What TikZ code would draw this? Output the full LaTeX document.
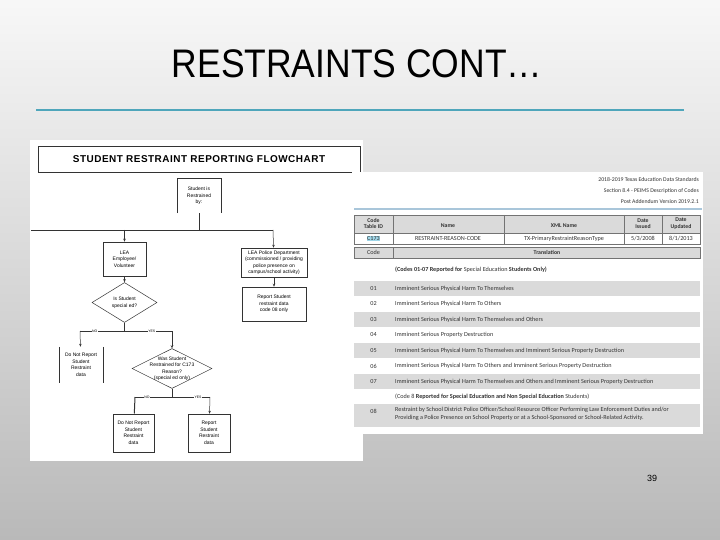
\documentclass[tikz,border=0pt]{standalone}
\usepackage{graphicx}
\usepackage{fontspec}
\setmainfont{Liberation Sans}
\newfontfamily\tablefont{Carlito}
\usepackage{xcolor}
\usetikzlibrary{arrows.meta, positioning, calc, shapes.geometric}

\definecolor{slidegray}{HTML}{B9B9B9}
\definecolor{ruleteal}{HTML}{4FA6BB}
\definecolor{rowgray}{HTML}{DADADA}
\definecolor{hdrblue}{HTML}{A9C6DA}
\definecolor{idcyan}{HTML}{9FD6E8}
\definecolor{inkgray}{HTML}{333333}

\begin{document}
\begin{tikzpicture}[
x=1bp, y=-1bp,
every node/.style={font=\fontsize{5}{6.5}\selectfont, inner sep=0.5bp},
box/.style={draw=black!80, line width=0.5bp, minimum width=43bp, minimum height=34bp, align=center},
openbox/.style={box, draw=none},
decision/.style={draw=black!80, line width=0.5bp, diamond, inner sep=0pt, align=center},
link/.style={draw=black!80, line width=0.5bp},
arr/.style={link, -{Stealth[length=3bp, width=2.5bp]}},
tag/.style={fill=white, font=\fontsize{3.5}{4}\selectfont, inner sep=0.3bp},
cell/.style={font=\tablefont\fontsize{6.2}{7.5}\selectfont, text=inkgray, inner sep=0pt, align=center}
]
\useasboundingbox (0,0) rectangle (720,540);
\shade[top color=black!3, bottom color=slidegray] (0,0) rectangle (720,540);

\node[font=\fontsize{40}{40}\selectfont] (title) at (357,64) {\scalebox{0.89}[1]{RESTRAINTS CONT…}};
\draw[ruleteal, line width=2bp] (36,110) -- (684,110);

% flowchart picture
\fill[white] (30,140) rectangle (363,461);
\node[draw=black!80, line width=0.6bp, minimum width=322bp, minimum height=26bp,
  font=\bfseries\fontsize{10}{10}\selectfont\addfontfeature{LetterSpace=5}] (fctitle) at (199,159)
  {STUDENT RESTRAINT REPORTING FLOWCHART};

\node[openbox, minimum width=44bp] (restrained) at (199,196) {Student is\\Restrained\\by:};
\draw[link] (restrained.south west) |- (restrained.north east) -- (restrained.south east);

\coordinate (split1) at (199,230);
\coordinate (railL) at (31,230);
\coordinate (railR) at (273,230);

\node[box] (employee) at (124.5,259) {LEA\\Employee/\\Volunteer};
\node[box, minimum width=66bp, minimum height=29bp] (police) at (274,262.5)
  {LEA Police Department\\(commissioned / providing\\police presence on\\campus/school activity)};
\node[box, minimum width=64bp] (report08) at (274,304) {Report Student\\restraint data\\code 08 only};

\node[decision, minimum width=65bp, minimum height=40bp] (specialed) at (124.5,302.5) {Is Student\\special ed?};
\coordinate (split2) at (124.5,331);
\coordinate (rail2L) at (80,331);
\coordinate (rail2R) at (172,331);

\node[openbox, minimum width=44bp, minimum height=36bp] (notreport1) at (81,365)
  {Do Not Report\\Student\\Restraint\\data};
\draw[link] (notreport1.north west) -- (notreport1.south west)
  (notreport1.north east) -- (notreport1.south east);

\node[decision, minimum width=80bp, minimum height=40bp] (c173) at (172,368.5) {};
\node[align=center] (c173text) at (c173) {Was Student\\Restrained for C173\\Reason?\\(special ed only)};
\coordinate (split3) at (172,397);
\coordinate (rail3L) at (135,397);
\coordinate (rail3R) at (210,397);

\node[box, line width=1bp, minimum width=41bp, minimum height=38bp] (notreport2) at (133.5,433)
  {Do Not Report\\Student\\Restraint\\data};
\node[box, minimum width=42bp, minimum height=38bp] (report) at (209,433)
  {Report\\Student\\Restraint\\data};

\draw[link] (restrained.south) -- (split1);
\draw[link] (railL) -- (railR);
\draw[arr] (employee |- railL) -- (employee);
\draw[arr] (railR) -- (police);
\draw[arr] (police) -- (report08);
\draw[arr] (employee) -- (specialed);
\draw[link] (specialed) -- (split2);
\draw[link] (rail2L) -- node[tag, pos=0.16] (no1) {NO} node[tag, pos=0.78] (yes1) {YES} (rail2R);
\draw[arr] (rail2L) -- (notreport1);
\draw[arr] (rail2R) -- (c173);
\draw[link] (c173) -- (split3);
\draw[link] (rail3L) -- node[tag, pos=0.16] (no2) {NO} node[tag, pos=0.84] (yes2) {YES} (rail3R);
\draw[link, line width=1bp] (rail3L) -- (notreport2);
\draw[arr] (rail3R) -- (report);

% code table picture
\fill[white] (352,172) rectangle (703,434);
\node[cell, anchor=east, font=\tablefont\fontsize{5.8}{7}\selectfont] (std1) at (699,180) {2018-2019 Texas Education Data Standards};
\node[cell, anchor=east, font=\tablefont\fontsize{5.8}{7}\selectfont] (std2) at (699,191) {Section 8.4 - PEIMS Description of Codes};
\node[cell, anchor=east, font=\tablefont\fontsize{5.8}{7}\selectfont] (std3) at (699,202) {Post Addendum Version 2019.2.1};
\draw[hdrblue, line width=1.6bp] (354,209) -- (702,209);

\fill[rowgray] (354,215) rectangle (700,233);
\fill[rowgray] (354,247) rectangle (700,258);
\draw[black!55, line width=0.5bp] (354,215) rectangle (700,244) (354,233) -- (700,233)
  (393,215) -- (393,244) (504,215) -- (504,244) (624,215) -- (624,244) (662,215) -- (662,244);
\draw[black!55, line width=0.5bp] (354,247) rectangle (700,258) (393,247) -- (393,258);

\node[cell, font=\tablefont\bfseries\fontsize{5.8}{6.5}\selectfont] (hid) at (373.5,223.5) {Code\\Table ID};
\node[cell, font=\tablefont\bfseries\fontsize{5.8}{6.5}\selectfont] (hname) at (448,226) {Name};
\node[cell, font=\tablefont\bfseries\fontsize{5.8}{6.5}\selectfont] (hxml) at (564,226) {XML Name};
\node[cell, font=\tablefont\bfseries\fontsize{5.8}{6.5}\selectfont] (hissued) at (643,223.5) {Date\\Issued};
\node[cell, font=\tablefont\bfseries\fontsize{5.8}{6.5}\selectfont] (hupdated) at (681,223.5) {Date\\Updated};
\node[cell, fill=idcyan, inner sep=0.5bp] (vid) at (373.5,238.5) {C173};
\node[cell] (vname) at (448,238.5) {RESTRAINT-REASON-CODE};
\node[cell] (vxml) at (564,238.5) {TX-PrimaryRestraintReasonType};
\node[cell] (vissued) at (643,238.5) {5/3/2008};
\node[cell] (vupdated) at (681,238.5) {8/1/2013};
\node[cell] (hcode) at (373.5,252.5) {Code};
\node[cell, font=\tablefont\bfseries\fontsize{5.8}{6.5}\selectfont] (htrans) at (547,252.5) {Translation};

\foreach \y in {288.5,319.5,350.5,381.5}
  \fill[rowgray] (354,\y-7.5) rectangle (700,\y+7.5);
\fill[rowgray] (354,404) rectangle (700,427);

\node[cell, anchor=west] (group1) at (395,270)
  {\textbf{(Codes 01-07 Reported for} Special Education \textbf{Students Only)}};
\foreach \y/\code/\txt [count=\i] in {
  288.5/01/Imminent Serious Physical Harm To Themselves,
  304/02/Imminent Serious Physical Harm To Others,
  319.5/03/Imminent Serious Physical Harm To Themselves and Others,
  335/04/Imminent Serious Property Destruction,
  350.5/05/Imminent Serious Physical Harm To Themselves and Imminent Serious Property Destruction,
  366/06/Imminent Serious Physical Harm To Others and Imminent Serious Property Destruction,
  381.5/07/Imminent Serious Physical Harm To Themselves and Others and Imminent Serious Property Destruction}
{
  \node[cell] (code\i) at (373.5,\y) {\code};
  \node[cell, anchor=west] (reason\i) at (395,\y) {\txt};
}
\node[cell, anchor=west] (group2) at (395,396.5)
  {(Code 8 \textbf{Reported for Special Education and Non Special Education} Students)};
\node[cell] (code8) at (373.5,411) {08};
\node[cell, anchor=north west, align=left] (reason8) at (395,407.5)
  {Restraint by School District Police Officer/School Resource Officer Performing Law Enforcement Duties and/or\\
   Providing a Police Presence on School Property or at a School-Sponsored or School-Related Activity.};

\node[font=\fontsize{9}{9}\selectfont] (pagenum) at (652,478) {39};
\end{tikzpicture}
\end{document}
